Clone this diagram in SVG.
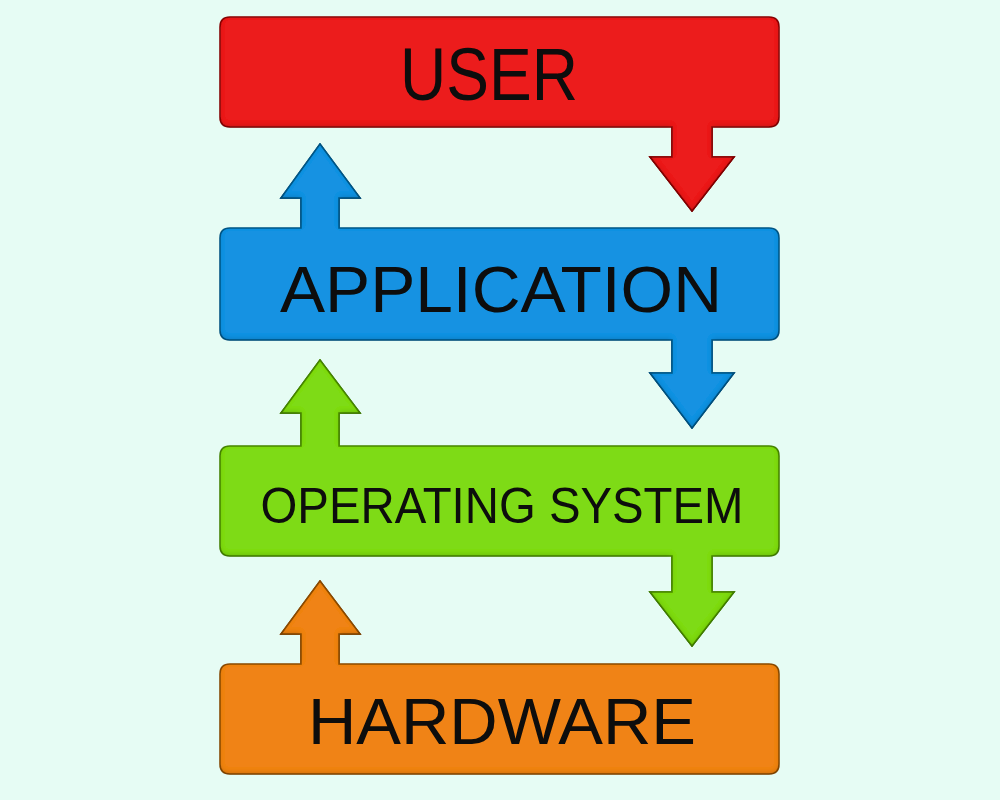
<svg xmlns="http://www.w3.org/2000/svg" width="1000" height="800" viewBox="0 0 1000 800">
<defs>
<filter id="bevel" x="-5%" y="-5%" width="110%" height="110%">
<feGaussianBlur in="SourceAlpha" stdDeviation="2.5" result="b"/>
<feOffset dx="0" dy="-2" result="o"/>
<feComposite in="SourceAlpha" in2="o" operator="out" result="edge"/>
<feFlood flood-color="#000" flood-opacity="0.35"/>
<feComposite in2="edge" operator="in" result="sh"/>
<feMerge><feMergeNode in="SourceGraphic"/><feMergeNode in="sh"/></feMerge>
</filter>
<style>
.lbl{font-family:"Liberation Sans","DejaVu Sans",sans-serif;fill:#0a0a0a;text-anchor:middle}
.red{fill:#ec1b1b;stroke:#8e1010}
.blue{fill:#1592e2;stroke:#0d5a8a}
.green{fill:#7edb12;stroke:#4a8a08}
.orange{fill:#f08314;stroke:#8f4e0c}
.shape{stroke-width:1.5;stroke-linejoin:miter}
</style>
</defs>
<rect width="1000" height="800" fill="#e6fcf4"/>
<g id="connectors">
<g id="user-to-app" filter="url(#bevel)">
<path class="red shape" d="M672,125 L672,157 L650,157 L692,211 L734,157 L712,157 L712,125 Z" stroke="none"/>
</g>
<g id="app-to-user" filter="url(#bevel)">
<path class="blue shape" d="M301,231 L301,198 L281,198 L320,144 L360,198 L339,198 L339,231 Z" stroke="none"/>
</g>
<g id="app-to-os" filter="url(#bevel)">
<path class="blue shape" d="M672,337 L672,373 L650,373 L692,428 L734,373 L712,373 L712,337 Z" stroke="none"/>
</g>
<g id="os-to-app" filter="url(#bevel)">
<path class="green shape" d="M301,449 L301,413 L281,413 L320,360 L360,413 L339,413 L339,449 Z" stroke="none"/>
</g>
<g id="os-to-hw" filter="url(#bevel)">
<path class="green shape" d="M672,553 L672,592 L650,592 L692,646 L734,592 L712,592 L712,553 Z" stroke="none"/>
</g>
<g id="hw-to-os" filter="url(#bevel)">
<path class="orange shape" d="M301,667 L301,634 L281,634 L320,581 L360,634 L339,634 L339,667 Z" stroke="none"/>
</g>
</g>
<g id="user" filter="url(#bevel)">
<path class="red shape" d="M230,17 H769 Q779,17 779,27 V117 Q779,127 769,127 H712 V157 H734 L692,211 L650,157 H672 V127 H230 Q220,127 220,117 V27 Q220,17 230,17 Z"/>
<text class="lbl" x="489" y="100" font-size="74" textLength="178" lengthAdjust="spacingAndGlyphs">USER</text>
</g>
<g id="application" filter="url(#bevel)">
<path class="blue shape" d="M230,228 H301 V198 H281 L320,144 L360,198 H339 V228 H769 Q779,228 779,238 V330 Q779,340 769,340 H712 V373 H734 L692,428 L650,373 H672 V340 H230 Q220,340 220,330 V238 Q220,228 230,228 Z"/>
<text class="lbl" x="501" y="312" font-size="64" textLength="442" lengthAdjust="spacingAndGlyphs">APPLICATION</text>
</g>
<g id="operating-system" filter="url(#bevel)">
<path class="green shape" d="M230,446 H301 V413 H281 L320,360 L360,413 H339 V446 H769 Q779,446 779,456 V546 Q779,556 769,556 H712 V592 H734 L692,646 L650,592 H672 V556 H230 Q220,556 220,546 V456 Q220,446 230,446 Z"/>
<text class="lbl" x="502" y="523" font-size="50" textLength="483" lengthAdjust="spacingAndGlyphs">OPERATING SYSTEM</text>
</g>
<g id="hardware" filter="url(#bevel)">
<path class="orange shape" d="M230,664 H301 V634 H281 L320,581 L360,634 H339 V664 H769 Q779,664 779,674 V764 Q779,774 769,774 H230 Q220,774 220,764 V674 Q220,664 230,664 Z"/>
<text class="lbl" x="502" y="744" font-size="65" textLength="388" lengthAdjust="spacingAndGlyphs">HARDWARE</text>
</g>
</svg>
